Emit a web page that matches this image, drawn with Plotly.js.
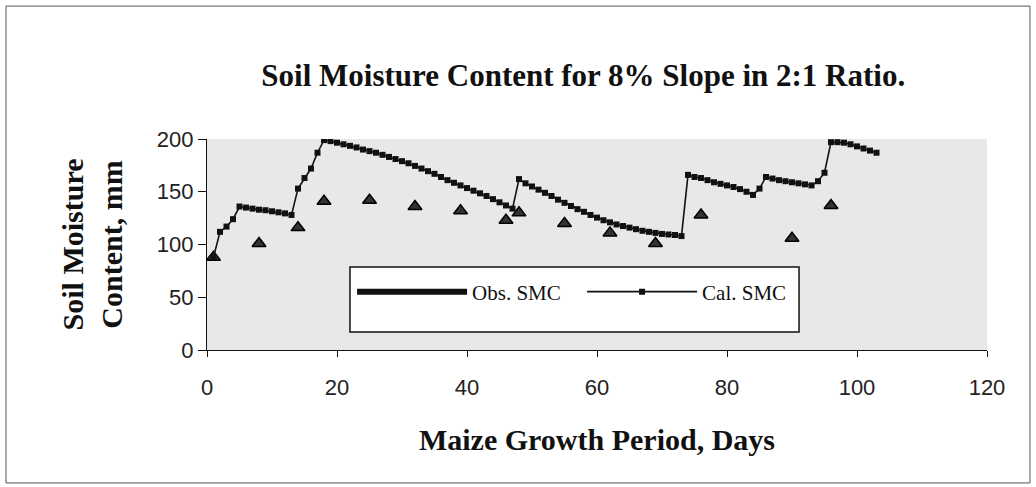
<!DOCTYPE html>
<html>
<head>
<meta charset="utf-8">
<script src="https://cdn.plot.ly/plotly-3.0.1.min.js"></script>
<style>
  html, body { margin: 0; padding: 0; background: #fff; }
  #chart { width: 1036px; height: 487px; }
</style>
</head>
<body>
<div id="chart"></div>
<script>
// Daily simulated soil moisture (line with markers)
var calDays = [1,2,3,4,5,6,7,8,9,10,11,12,13,14,15,16,17,18,19,20,21,22,23,24,25,26,27,28,29,30,
  31,32,33,34,35,36,37,38,39,40,41,42,43,44,45,46,47,48,49,50,51,52,53,54,55,56,57,58,59,60,
  61,62,63,64,65,66,67,68,69,70,71,72,73,74,75,76,77,78,79,80,81,82,83,84,85,86,87,88,89,90,
  91,92,93,94,95,96,97,98,99,100,101,102,103];
var calSMC = [88,112,117,124,136,135,134,133,132.5,131.5,130.5,129.5,128,153,163,172,187,199,198,196.5,
  195,193.5,192,190,188.5,187,185,183,181,179,177,174.5,172,169.5,167,164,161,158.5,156,153.5,
  151,148.5,146,143,140,137,134,162,158,155,152,149,146,142.5,139.5,136.5,133.5,131,128,125.5,
  123,121,119,117.5,116,114.5,113,112,111,110,109.5,109,108,166,164,163,161,159,157.5,156,
  154.5,152.5,150,147,153,164,162.5,161,160,159,158,157,156,160,168,197,197,196.5,195,193,
  191,189,187];

// Observed soil moisture (triangles)
var obsDays = [1,8,14,18,25,32,39,46,48,55,62,69,76,90,96];
var obsSMC  = [88,101,116,141,142,136,132,123,130,120,111,101,128,106,137];

var xTicks = [0,20,40,60,80,100,120];
var yTicks = [0,50,100,150,200];

var serif = '"Liberation Serif", "Times New Roman", Times, serif';
var sans = '"Liberation Sans", Arial, Helvetica, sans-serif';

var traces = [
  { // legend entry only
    x: [null], y: [null], type: 'scatter', mode: 'lines', name: 'Obs. SMC',
    legendgroup: 'obs', line: {color: '#111', width: 6}, hoverinfo: 'skip'
  },
  {
    x: obsDays, y: obsSMC, type: 'scatter', mode: 'markers', name: 'Obs. SMC',
    legendgroup: 'obs', showlegend: false,
    marker: {symbol: 'triangle-up', size: 12, color: '#333', line: {color: '#000', width: 1.5}}
  },
  {
    x: calDays, y: calSMC, type: 'scatter', mode: 'lines+markers', name: 'Cal. SMC',
    line: {color: '#111', width: 1.6},
    marker: {symbol: 'square', size: 6, color: '#111'}
  }
];

var layout = {
  width: 1036, height: 487,
  margin: {l: 207, r: 49, t: 139, b: 137},
  paper_bgcolor: '#ffffff',
  plot_bgcolor: '#e8e8e8',
  showlegend: true,
  title: {
    text: '<b>Soil Moisture Content for 8% Slope in 2:1 Ratio.</b>',
    font: {family: serif, size: 31, color: '#111'},
    x: 0.563, xref: 'container', xanchor: 'center',
    y: 0.846, yref: 'container', yanchor: 'middle'
  },
  xaxis: {
    range: [0, 120], tickvals: xTicks, ticktext: xTicks.map(String),
    showgrid: false, zeroline: false,
    showline: true, linecolor: '#111', linewidth: 1.2,
    ticks: 'outside', ticklen: 6, tickcolor: '#111',
    ticklabelstandoff: 11,
    tickfont: {family: sans, size: 22, color: '#222'},
    title: {text: '<b>Maize Growth Period, Days</b>', font: {family: serif, size: 30, color: '#111'}, standoff: 30}
  },
  yaxis: {
    range: [0, 200], tickvals: yTicks, ticktext: yTicks.map(String),
    showgrid: false, zeroline: false,
    showline: true, linecolor: '#111', linewidth: 1.2,
    ticks: 'outside', ticklen: 8, tickcolor: '#111',
    tickfont: {family: sans, size: 22, color: '#222'},
    title: {text: '<b>Soil Moisture<br>Content, mm</b>', font: {family: serif, size: 30, color: '#111'}, standoff: 25}
  },
  legend: {
    orientation: 'h', x: 0.186, xanchor: 'left', y: 0.275, yanchor: 'middle',
    bgcolor: 'rgba(0,0,0,0)', borderwidth: 0,
    font: {family: serif, size: 21, color: '#111'},
    itemwidth: 110, entrywidth: 105
  },
  shapes: [
    { // legend box
      type: 'rect', xref: 'paper', yref: 'paper', layer: 'below',
      x0: 0.1833, x1: 0.759, y0: 0.085, y1: 0.393,
      fillcolor: '#ffffff', line: {color: '#111', width: 1.5}
    },
    { // outer frame
      type: 'rect', xref: 'paper', yref: 'paper', layer: 'above',
      x0: -0.2577, x1: 1.0551, y0: -0.630, y1: 1.630,
      fillcolor: 'rgba(0,0,0,0)', line: {color: '#555', width: 1}
    }
  ]
};

Plotly.newPlot('chart', traces, layout, {displayModeBar: false, staticPlot: true});
</script>
</body>
</html>
